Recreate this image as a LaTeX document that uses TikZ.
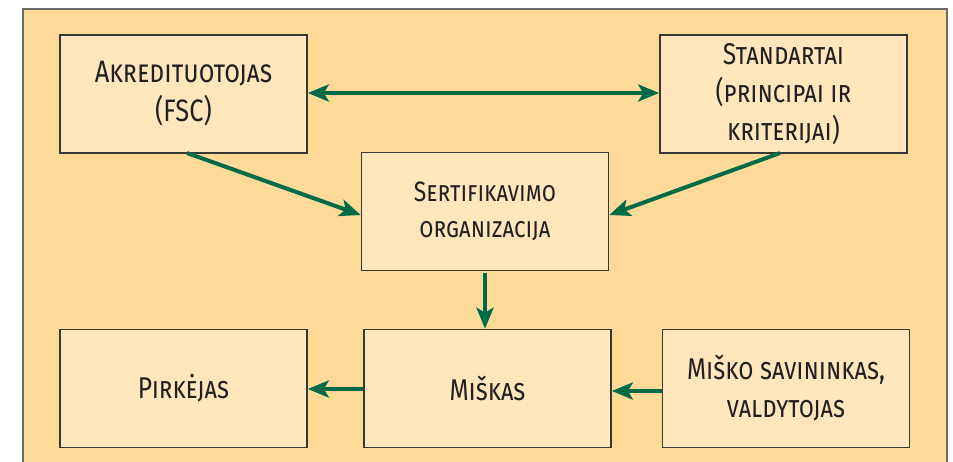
\documentclass[tikz,border=0pt]{standalone}
\usepackage{fontspec}
\setmainfont{Fira Sans}[FakeStretch=0.82]
\usetikzlibrary{arrows.meta}
\definecolor{outerbg}{HTML}{FDDA98}
\definecolor{boxbg}{HTML}{FFE6BC}
\definecolor{boxline}{HTML}{3A3835}
\definecolor{framecol}{HTML}{6E6A66}
\definecolor{arrowcol}{HTML}{006B47}
\definecolor{txt}{HTML}{231F20}
\tikzset{
  blk/.style={draw=boxline, line width=1.6pt, fill=boxbg, minimum width=247pt, minimum height=118pt,
    inner sep=0pt, align=center, text=txt, font=\fontsize{31}{39}\selectfont},
  conn/.style={draw=arrowcol, line width=4pt, -{Stealth[length=21pt,width=17pt,inset=5pt]}},
  conn2/.style={draw=arrowcol, line width=4pt, {Stealth[length=21pt,width=17pt,inset=5pt]}-{Stealth[length=21pt,width=17pt,inset=5pt]}}
}
\begin{document}
\begin{tikzpicture}[x=1pt,y=-1pt]
\useasboundingbox (0,0) rectangle (953,461);
\fill[outerbg] (23,9) rectangle (947,470);
\draw[framecol, line width=2pt] (23,470) -- (23,9) -- (947,9) -- (947,470);
\node[blk] (akr) at (183.5,94) {\textsc{Akredituotojas}\\(FSC)};
\node[blk, font=\fontsize{30}{38}\selectfont] (std) at (783.5,94) {\textsc{Standartai}\\\textsc{(principai ir}\\\textsc{kriterijai)}};
\node[blk, font=\fontsize{28}{36}\selectfont] (sert) at (485,211.5) {\textsc{Sertifikavimo}\\\textsc{organizacija}};
\node[blk, font=\fontsize{30}{38}\selectfont] (pirk) at (183.5,388.5) {\textsc{Pirkėjas}};
\node[blk, font=\fontsize{30}{38}\selectfont] (misk) at (487.5,388.5) {\textsc{Miškas}};
\node[blk, font=\fontsize{30}{38}\selectfont] (sav) at (786,388.5) {\textsc{Miško savininkas,}\\\textsc{valdytojas}};
\draw[conn2] (akr.east |- 0,93) -- (std.west |- 0,93);
\draw[conn] (187,153) -- (sert.west |- 0,215);
\draw[conn] (780,153) -- (sert.east |- 0,215);
\draw[conn] (sert.south -| 485,0) ++(0,2) -- (misk.north -| 485,0);
\draw[conn] (misk.west |- 0,389) -- (pirk.east |- 0,389);
\draw[conn] (sav.west |- 0,391) -- (misk.east |- 0,391);
\end{tikzpicture}
\end{document}
